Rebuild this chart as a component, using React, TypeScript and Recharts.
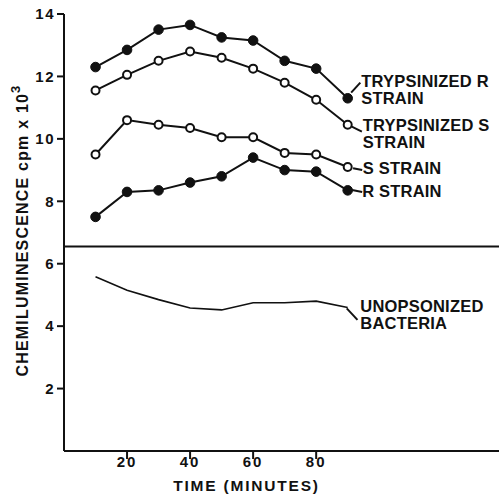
import React from "react";
import {
    LineChart,
    Line,
    XAxis,
    YAxis,
    ReferenceLine,
    ReferenceDot,
} from "recharts";

const TIME = [10, 20, 30, 40, 50, 60, 70, 80, 90];
const TRYP_R = [12.3, 12.85, 13.5, 13.65, 13.25, 13.15, 12.5, 12.25, 11.3];
const TRYP_S = [11.55, 12.05, 12.5, 12.8, 12.6, 12.25, 11.8, 11.25, 10.45];
const S_STRAIN = [9.5, 10.6, 10.45, 10.35, 10.05, 10.05, 9.55, 9.5, 9.1];
const R_STRAIN = [7.5, 8.3, 8.35, 8.6, 8.8, 9.4, 9.0, 8.95, 8.35];
const UNOPSONIZED = [5.58, 5.15, 4.85, 4.58, 4.52, 4.75, 4.75, 4.8, 4.6];

const X_TICKS = [20, 40, 60, 80];
const Y_TICKS = [2, 4, 6, 8, 10, 12, 14];
const BREAK_Y = 6.55;

// series annotations: text position (left, baseline) and leader line, in data units
const LABELS = [
    { lines: ["TRYPSINIZED R", "STRAIN"], x: 94.3, y: 11.66, from: [91.1, 11.48], to: [94.0, 11.8] },
    { lines: ["TRYPSINIZED S", "STRAIN"], x: 94.8, y: 10.25, from: [91.3, 10.39], to: [94.5, 10.23] },
    { lines: ["S STRAIN"], x: 94.8, y: 8.88, from: [91.7, 9.06], to: [94.6, 9.0] },
    { lines: ["R STRAIN"], x: 94.6, y: 8.14, from: [91.4, 8.36], to: [94.6, 8.3] },
    { lines: ["UNOPSONIZED", "BACTERIA"], x: 94.0, y: 4.45, from: [89.7, 4.57], to: [93.1, 4.2] },
];

const data = TIME.map((t, i) => ({
    time: t,
    trypR: TRYP_R[i],
    trypS: TRYP_S[i],
    sStrain: S_STRAIN[i],
    rStrain: R_STRAIN[i],
    unops: UNOPSONIZED[i],
}));

const FONT = "'Liberation Sans', Arial, sans-serif";
const textStyle = { fontFamily: FONT, fontWeight: 700, fill: "#111" };

const filledDot = { r: 4.8, fill: "#111", stroke: "#111", strokeWidth: 1 };
const openDot = { r: 4, fill: "#fff", stroke: "#111", strokeWidth: 2 };

const annotationLabel = (lines: string[]) => (props: any) => {
    const { viewBox } = props;
    return (
        <text x={viewBox.x} y={viewBox.y} fontSize={16.5} letterSpacing={0.2} {...textStyle}>
            {lines.map((l, i) => (
                <tspan key={i} x={viewBox.x} dy={i === 0 ? 0 : 17}>
                    {l}
                </tspan>
            ))}
        </text>
    );
};

const yLabel = (props: any) => {
    const { viewBox } = props;
    const cx = viewBox.x + 28;
    const cy = viewBox.y + viewBox.height / 2 - 2;
    return (
        <text
            x={cx}
            y={cy}
            transform={`rotate(-90, ${cx}, ${cy})`}
            textAnchor="middle"
            fontSize={16}
            letterSpacing={1.2}
            {...textStyle}
        >
            CHEMILUMINESCENCE cpm x 10
            <tspan dy={-8} fontSize={13}>3</tspan>
        </text>
    );
};

const xLabel = (props: any) => {
    const { viewBox } = props;
    return (
        <text
            x={viewBox.x + viewBox.width / 2 - 35}
            y={491}
            textAnchor="middle"
            fontSize={15.5}
            letterSpacing={1.8}
            {...textStyle}
        >
            TIME (MINUTES)
        </text>
    );
};

export default function App() {
    return (
        <div style={{ position: "absolute", left: 0, top: 0, background: "#fff", width: 499, height: 498 }}>
            <LineChart
                width={499}
                height={498}
                data={data}
                margin={{ top: 14, right: 0, left: 0, bottom: 7 }}
            >
                <XAxis
                    dataKey="time"
                    type="number"
                    domain={[0, 138]}
                    ticks={X_TICKS}
                    height={40}
                    axisLine={{ stroke: "#111", strokeWidth: 2 }}
                    tickLine={{ stroke: "#111", strokeWidth: 2 }}
                    tickSize={8}
                    tickMargin={-3}
                    tick={{ fontSize: 15, fontFamily: FONT, fontWeight: 700, fill: "#111", letterSpacing: 2 }}
                    label={{ content: xLabel }}
                />
                <YAxis
                    type="number"
                    domain={[0, 14]}
                    ticks={Y_TICKS}
                    width={64}
                    axisLine={{ stroke: "#111", strokeWidth: 2 }}
                    tickLine={{ stroke: "#111", strokeWidth: 2 }}
                    tickSize={7}
                    tick={{ fontSize: 15, fontFamily: FONT, fontWeight: 700, fill: "#111", letterSpacing: 1.5 }}
                    label={{ content: yLabel }}
                />
                <ReferenceLine y={BREAK_Y} stroke="#111" strokeWidth={2} />
                <Line dataKey="trypR" stroke="#111" strokeWidth={2} dot={filledDot} activeDot={false} isAnimationActive={false} />
                <Line dataKey="trypS" stroke="#111" strokeWidth={2} dot={openDot} activeDot={false} isAnimationActive={false} />
                <Line dataKey="sStrain" stroke="#111" strokeWidth={2} dot={openDot} activeDot={false} isAnimationActive={false} />
                <Line dataKey="rStrain" stroke="#111" strokeWidth={2} dot={filledDot} activeDot={false} isAnimationActive={false} />
                <Line dataKey="unops" stroke="#111" strokeWidth={1.6} dot={false} activeDot={false} isAnimationActive={false} />
                {LABELS.map((lab, i) => (
                    <ReferenceLine
                        key={`lead-${i}`}
                        segment={[
                            { x: lab.from[0], y: lab.from[1] },
                            { x: lab.to[0], y: lab.to[1] },
                        ]}
                        stroke="#111"
                        strokeWidth={2}
                    />
                ))}
                {LABELS.map((lab, i) => (
                    <ReferenceDot
                        key={`lab-${i}`}
                        x={lab.x}
                        y={lab.y}
                        r={0}
                        stroke="none"
                        fill="none"
                        label={{ content: annotationLabel(lab.lines) }}
                    />
                ))}
            </LineChart>
        </div>
    );
}
